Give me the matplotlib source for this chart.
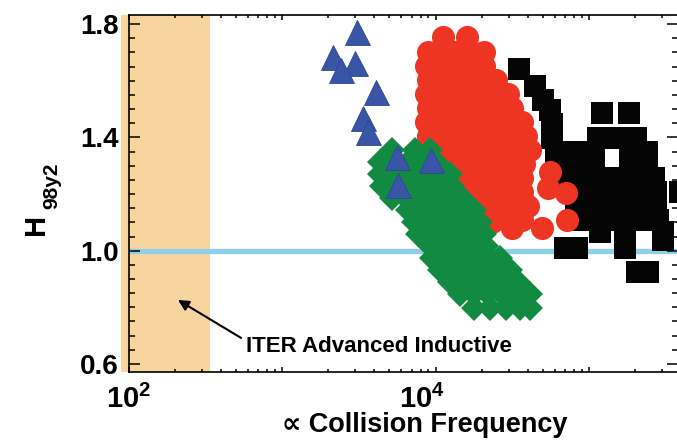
import numpy as np
import matplotlib
matplotlib.use('Agg')
import matplotlib.pyplot as plt
from matplotlib.ticker import FixedLocator, NullFormatter, LogLocator, MultipleLocator
from matplotlib.transforms import ScaledTranslation

plt.rcParams['font.family'] = ['Liberation Sans', 'DejaVu Sans']
plt.rcParams['font.weight'] = 'bold'
plt.rcParams['mathtext.fontset'] = 'custom'
plt.rcParams['mathtext.rm'] = 'Liberation Sans:bold'
plt.rcParams['mathtext.bf'] = 'Liberation Sans:bold'
plt.rcParams['mathtext.it'] = 'Liberation Sans:bold'

# ---------------- data ----------------
tri_x = [3081, 2149, 2990, 2423, 4097, 3371, 3634, 5614, 9348, 5699]
tri_y = [1.772, 1.684, 1.662, 1.638, 1.560, 1.468, 1.419, 1.330, 1.320, 1.232]

red_row_y = [1.754, 1.701, 1.652, 1.602, 1.553, 1.503, 1.454, 1.405, 1.355,
             1.306, 1.256, 1.207, 1.158, 1.108]
red_row_x = [
    [1.12e4, 1.60e4],
    [8.9e3, 1.10e4, 1.36e4, 1.73e4, 2.07e4],
    [8.7e3, 1.07e4, 1.32e4, 1.63e4, 2.07e4],
    [8.9e3, 1.10e4, 1.36e4, 1.68e4, 2.07e4, 2.48e4],
    [8.7e3, 1.07e4, 1.32e4, 1.63e4, 2.01e4, 2.55e4, 2.97e4],
    [8.9e3, 1.10e4, 1.36e4, 1.68e4, 2.07e4, 2.55e4, 3.15e4],
    [8.7e3, 1.07e4, 1.32e4, 1.63e4, 2.01e4, 2.48e4, 3.06e4, 3.66e4],
    [8.9e3, 1.10e4, 1.36e4, 1.68e4, 2.07e4, 2.55e4, 3.15e4, 3.89e4],
    [9.2e3, 1.14e4, 1.40e4, 1.73e4, 2.13e4, 2.63e4, 3.25e4, 4.13e4],
    [1.07e4, 1.32e4, 1.63e4, 2.01e4, 2.48e4, 3.06e4, 3.77e4],
    [1.28e4, 1.58e4, 1.95e4, 2.41e4, 2.97e4, 3.66e4],
    [1.58e4, 1.95e4, 2.41e4, 2.97e4, 3.66e4],
    [1.84e4, 2.27e4, 2.80e4, 3.45e4, 4.01e4],
    [2.27e4, 2.88e4, 3.66e4],
]
red_extra_x = [5.57e4, 5.41e4, 7.09e4, 7.19e4, 4.94e4, 3.15e4, 2.33e4]
red_extra_y = [1.278, 1.221, 1.203, 1.108, 1.080, 1.080, 1.101]

green_row_y = [1.355, 1.313, 1.271, 1.228, 1.186, 1.143, 1.101, 1.059, 1.016,
               0.974, 0.932, 0.889, 0.847, 0.798]
green_row_x = [
    [5.21e3, 7.35e3, 9.21e3],
    [4.35e3, 5.37e3, 6.62e3, 8.17e3, 1.01e4],
    [4.35e3, 5.37e3, 6.62e3, 8.17e3, 1.01e4, 1.24e4],
    [4.48e3, 5.53e3, 6.82e3, 8.41e3, 1.04e4, 1.28e4],
    [5.21e3, 6.42e3, 7.93e3, 9.78e3, 1.21e4, 1.49e4],
    [6.62e3, 8.17e3, 1.01e4, 1.24e4, 1.53e4, 1.78e4],
    [7.24e3, 8.94e3, 1.10e4, 1.36e4, 1.68e4, 1.95e4],
    [7.69e3, 9.49e3, 1.17e4, 1.44e4, 1.78e4, 2.07e4],
    [9.21e3, 1.14e4, 1.40e4, 1.73e4, 2.13e4],
    [9.49e3, 1.17e4, 1.44e4, 1.78e4, 2.20e4, 2.63e4],
    [1.07e4, 1.32e4, 1.63e4, 2.01e4, 2.48e4, 3.06e4],
    [1.24e4, 1.53e4, 1.89e4, 2.33e4, 2.88e4, 3.45e4],
    [1.44e4, 1.78e4, 2.20e4, 2.71e4, 3.35e4, 4.13e4],
    [1.78e4, 2.27e4, 2.88e4, 3.55e4, 4.13e4],
]

black_row_y = [1.641, 1.581, 1.532, 1.496, 1.486, 1.447, 1.398, 1.348, 1.306,
               1.256, 1.207, 1.158, 1.108, 1.066, 1.038, 1.009, 0.925]
black_row_x = [
    [3.50e4],
    [4.45e4],
    [5.02e4],
    [5.57e4],
    [1.215e5, 1.823e5],
    [5.74e4],
    [5.74e4, 1.145e5, 1.455e5, 2.024e5],
    [6.10e4, 8.48e4, 1.078e5, 1.85e5, 2.388e5],
    [6.67e4, 8.74e4, 1.078e5, 1.85e5, 2.388e5],
    [7.30e4, 9.28e4, 1.179e5, 1.500e5, 1.906e5, 2.424e5, 2.652e5],
    [7.75e4, 9.85e4, 1.253e5, 1.592e5, 2.024e5, 2.573e5, 2.733e5, 3.92e5],
    [8.23e4, 1.046e5, 1.330e5, 1.691e5, 2.149e5, 2.733e5],
    [8.48e4, 1.078e5, 1.371e5, 1.742e5, 2.215e5, 2.816e5],
    [1.179e5, 1.717e5, 3.036e5],
    [3.036e5],
    [6.98e4, 8.36e4, 1.717e5],
    [2.055e5, 2.424e5],
]

iter_band = (89.3, 340.0)
ref_level = 1.0
x_major = [1e2, 1e3, 1e4, 1e5]
x_major_labels = [r'$\mathbf{10^2}$', '', r'$\mathbf{10^4}$', '']
y_major = [0.6, 1.0, 1.4, 1.8]
y_major_labels = ['0.6', '1.0', '1.4', '1.8']


def flatten(rows_x, rows_y):
    xs, ys = [], []
    for xr, yv in zip(rows_x, rows_y):
        xs.extend(xr)
        ys.extend([yv] * len(xr))
    return xs, ys


red_x, red_y = flatten(red_row_x, red_row_y)
red_x += red_extra_x
red_y += red_extra_y
green_x, green_y = flatten(green_row_x, green_row_y)
black_x, black_y = flatten(black_row_x, black_row_y)

# ---------------- figure ----------------
W, H = 677, 442
fig = plt.figure(figsize=(W / 100, H / 100), dpi=100)
ax = fig.add_axes([128.5 / W, (H - 372) / H, (678 - 128.5) / W, (372 - 15) / H])
ax.set_xscale('log')
ax.set_xlim(100, 3.80e5)
ax.set_ylim(0.5717, 1.832)

ax.axvspan(iter_band[0], iter_band[1], color='#F8D59F', lw=0, zorder=0, clip_on=False)
ax.axhline(ref_level, color='#8DD0EC', lw=3.8, zorder=1)

ax.plot(black_x, black_y, ls='none', marker='s', ms=15.8, color='#050505', mew=0, zorder=2)
ax.plot(red_x, red_y, ls='none', marker='o', ms=16.6, color='#EE3524', mew=0, zorder=3)
ax.plot(green_x, green_y, ls='none', marker='D', ms=13.7, color='#128A42', mew=0, zorder=4)
ax.plot(tri_x, tri_y, ls='none', marker='^', ms=18, color='#3A55A5',
        mec='#2C4796', mew=0.6, zorder=5)

# ticks
ax.xaxis.set_major_locator(FixedLocator(x_major))
ax.set_xticklabels(x_major_labels)
ax.xaxis.set_minor_locator(LogLocator(base=10, subs=np.arange(2, 10)))
ax.xaxis.set_minor_formatter(NullFormatter())
ax.yaxis.set_major_locator(FixedLocator(y_major))
ax.set_yticklabels(y_major_labels)
ax.yaxis.set_minor_locator(MultipleLocator(0.05))

ax.tick_params(axis='both', which='both', direction='in', top=True, right=True,
               width=1.1, color='black')
ax.tick_params(axis='y', which='major', length=7.7, labelsize=20, pad=7)
ax.tick_params(axis='y', which='minor', length=4)
ax.tick_params(axis='x', which='major', length=3.3, labelsize=21, pad=9)
ax.tick_params(axis='x', which='minor', length=2.1)
for sp in ax.spines.values():
    sp.set_linewidth(1.2)

for lab in ax.get_yticklabels():
    lab.set_fontweight('bold')
# the 10^4 label sits a little left of its tick in the original
xl = ax.get_xticklabels()
xl[2].set_transform(xl[2].get_transform() +
                    ScaledTranslation(-0.14, 0, fig.dpi_scale_trans))

# annotation
ax.annotate('', xy=(210, 0.826), xytext=(541, 0.692),
            arrowprops=dict(arrowstyle='-|>', lw=1.5, color='black',
                            mutation_scale=16, shrinkA=0, shrinkB=0), zorder=6)
ax.text(583, 0.660, 'ITER Advanced Inductive', fontsize=16, fontweight='bold',
        ha='left', va='center', zorder=6)

fig.text(425 / W, 1 - 425 / H, '\u221d Collision Frequency', fontsize=19.5,
         fontweight='bold', ha='center', va='center',
         family=['Liberation Sans', 'DejaVu Sans'])
fig.text(36 / W, 1 - 224 / H, 'H', fontsize=21, fontweight='bold', rotation=90,
         ha='center', va='center')
fig.text(52 / W, 1 - 186 / H, '98y2', fontsize=15, fontweight='bold', rotation=90,
         ha='center', va='center')

fig.savefig('out.png', dpi=100)
